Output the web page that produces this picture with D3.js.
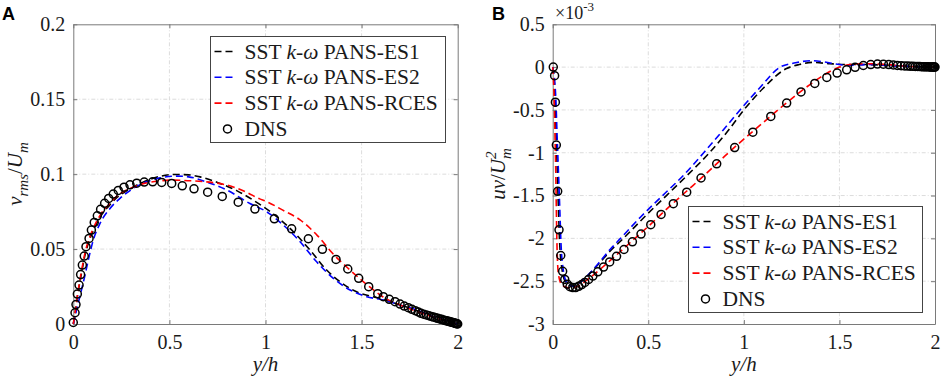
<!DOCTYPE html>
<html lang="en">
<head>
<meta charset="UTF-8">
<title>PANS vs DNS profiles</title>
<script src="https://d3js.org/d3.v7.min.js"></script>
<style>
    body { margin: 0; padding: 0; background: #fff; }
    svg text { font-family: 'Liberation Serif', 'Times New Roman', Times, 'DejaVu Serif', serif; fill: #1a1a1a; }
    svg text.panel-letter { font-family: 'Liberation Sans', Arial, sans-serif; font-weight: bold; fill: #000; }
</style>
</head>
<body>
<svg id="chart" width="941" height="379"></svg>
<script>
// ---- tick values ----
const xTicks = [0, 0.5, 1, 1.5, 2];
const yTicksA = [0, 0.05, 0.1, 0.15, 0.2];
const yTicksB = [0.5, 0, -0.5, -1, -1.5, -2, -2.5, -3];

// ---- legend ----
const modelNames = ["PANS-ES1", "PANS-ES2", "PANS-RCES"];
const modelColors = ["#000000", "#0000ff", "#ff0000"];

// ---- panel A: v_rms / U_m ----
const dnsA = [
    [0.0, 0.001], [0.009, 0.0075], [0.014, 0.013], [0.021, 0.020], [0.030, 0.026], [0.038, 0.033],
    [0.047, 0.0393], [0.057, 0.0453], [0.066, 0.0516], [0.082, 0.0571], [0.094, 0.0627], [0.109, 0.0678],
    [0.125, 0.0722], [0.142, 0.0765], [0.163, 0.0805], [0.184, 0.0838], [0.208, 0.0867], [0.234, 0.0891],
    [0.264, 0.0913], [0.295, 0.0929], [0.330, 0.094], [0.369, 0.0947], [0.413, 0.0949], [0.460, 0.0945],
    [0.512, 0.0938], [0.567, 0.0922], [0.628, 0.0902], [0.699, 0.088], [0.775, 0.0851], [0.858, 0.0813],
    [0.945, 0.0767], [1.046, 0.0702], [1.136, 0.0635], [1.223, 0.0569], [1.296, 0.0498], [1.367, 0.0431],
    [1.428, 0.0367], [1.485, 0.0305], [1.537, 0.0249], [1.584, 0.0202], [1.613, 0.0182], [1.644, 0.0165],
    [1.674, 0.0149], [1.700, 0.0133], [1.722, 0.012], [1.743, 0.0109], [1.762, 0.0098], [1.779, 0.0089],
    [1.795, 0.008], [1.809, 0.0071], [1.823, 0.0065], [1.837, 0.006], [1.850, 0.0055], [1.862, 0.005],
    [1.874, 0.0046], [1.885, 0.0042], [1.896, 0.0038], [1.906, 0.0034], [1.916, 0.0031], [1.925, 0.0027],
    [1.934, 0.0024], [1.942, 0.0021], [1.950, 0.0018], [1.957, 0.0016], [1.964, 0.0013], [1.971, 0.0011],
    [1.977, 0.0009], [1.982, 0.0007], [1.987, 0.0005], [1.992, 0.0003], [1.996, 0.0001], [2.0, 0.0]
];
const es1A = [
    [0, 0], [0.01, 0.0075], [0.02, 0.017], [0.03, 0.025], [0.04, 0.032], [0.05, 0.039], [0.06, 0.0455],
    [0.075, 0.0525], [0.09, 0.058], [0.11, 0.064], [0.14, 0.0715], [0.19, 0.0795], [0.23, 0.0848],
    [0.28, 0.089], [0.36, 0.0945], [0.45, 0.0985], [0.52, 0.0998], [0.6, 0.0995], [0.66, 0.0982],
    [0.75, 0.0945], [0.85, 0.089], [0.95, 0.0815], [1.04, 0.0735], [1.145, 0.0616], [1.232, 0.0493],
    [1.318, 0.036], [1.388, 0.0282], [1.474, 0.0215], [1.58, 0.0175], [1.7, 0.0128], [1.79, 0.0088],
    [1.9, 0.0045], [2.0, 0]
];
const es2A = [
    [0, 0], [0.02, 0.011], [0.038, 0.0204], [0.061, 0.0327], [0.078, 0.0427], [0.104, 0.056],
    [0.139, 0.0671], [0.191, 0.0771], [0.243, 0.0838], [0.312, 0.0905], [0.382, 0.0949], [0.451, 0.0975],
    [0.538, 0.0987], [0.6, 0.0982], [0.7, 0.0945], [0.8, 0.0893], [0.919, 0.0804], [1.006, 0.0749],
    [1.093, 0.066], [1.18, 0.0549], [1.266, 0.0415], [1.353, 0.0305], [1.44, 0.0227], [1.527, 0.0182],
    [1.613, 0.016], [1.70, 0.0127], [1.787, 0.0093], [1.873, 0.0049], [2.0, 0]
];
const rcesA = [
    [0, 0], [0.01, 0.008], [0.02, 0.018], [0.03, 0.026], [0.04, 0.0335], [0.05, 0.0405], [0.06, 0.047],
    [0.075, 0.054], [0.09, 0.0595], [0.11, 0.0655], [0.14, 0.0727], [0.19, 0.0805], [0.23, 0.0858],
    [0.28, 0.0895], [0.36, 0.0935], [0.45, 0.0955], [0.5, 0.096], [0.62, 0.0955], [0.8, 0.0927],
    [0.9, 0.088], [0.97, 0.0835], [1.0, 0.082], [1.09, 0.076], [1.18, 0.0695], [1.27, 0.059],
    [1.35, 0.047], [1.44, 0.036], [1.53, 0.026], [1.61, 0.0182], [1.7, 0.0127], [1.79, 0.0082],
    [1.9, 0.0035], [2.0, 0]
];

// ---- panel B: uv / U_m^2  (x 1e-3) ----
const dnsB = [
    [0.003, 0], [0.010, -0.10], [0.014, -0.41], [0.019, -0.91], [0.026, -1.45], [0.033, -1.90],
    [0.042, -2.20], [0.052, -2.385], [0.063, -2.48], [0.076, -2.535], [0.09, -2.565], [0.105, -2.575],
    [0.12, -2.575], [0.136, -2.56], [0.152, -2.54], [0.168, -2.515], [0.188, -2.48], [0.21, -2.44],
    [0.236, -2.39], [0.266, -2.335], [0.298, -2.275], [0.334, -2.21], [0.373, -2.13], [0.417, -2.04],
    [0.462, -1.95], [0.513, -1.84], [0.567, -1.72], [0.631, -1.595], [0.701, -1.46], [0.776, -1.295],
    [0.858, -1.13], [0.952, -0.94], [1.047, -0.76], [1.141, -0.576], [1.224, -0.42], [1.299, -0.29],
    [1.371, -0.19], [1.434, -0.121], [1.488, -0.07], [1.538, -0.031], [1.582, -0.002], [1.625, 0.019],
    [1.664, 0.03], [1.699, 0.035], [1.730, 0.034], [1.758, 0.03], [1.782, 0.025], [1.803, 0.02],
    [1.823, 0.016], [1.840, 0.014], [1.856, 0.012], [1.870, 0.01], [1.884, 0.009], [1.897, 0.008],
    [1.909, 0.007], [1.920, 0.006], [1.930, 0.005], [1.939, 0.004], [1.948, 0.004], [1.956, 0.003],
    [1.964, 0.003], [1.971, 0.002], [1.977, 0.002], [1.983, 0.001], [1.988, 0.001], [1.993, 0.0],
    [1.997, 0.0], [2.0, 0.0]
];
const es1B = [
    [0, 0], [0.012, -0.35], [0.018, -0.8], [0.024, -1.22], [0.03, -1.65], [0.036, -2.04], [0.05, -2.38],
    [0.065, -2.5], [0.09, -2.55], [0.11, -2.56], [0.14, -2.52], [0.18, -2.44], [0.24, -2.3],
    [0.3, -2.15], [0.37, -2.0], [0.48, -1.75], [0.595, -1.5], [0.71, -1.25], [0.82, -1.0],
    [0.915, -0.75], [1.0, -0.5], [1.1, -0.25], [1.22, -0.02], [1.29, 0.03], [1.36, 0.055],
    [1.45, 0.04], [1.55, 0.03], [1.65, 0.03], [1.75, 0.02], [1.9, 0.005], [2.0, 0]
];
const es2B = [
    [0, 0], [0.016, -0.35], [0.023, -0.8], [0.03, -1.22], [0.037, -1.65], [0.043, -2.04], [0.056, -2.38],
    [0.07, -2.5], [0.09, -2.55], [0.11, -2.56], [0.14, -2.52], [0.18, -2.44], [0.24, -2.29],
    [0.3, -2.13], [0.355, -2.0], [0.46, -1.75], [0.575, -1.5], [0.69, -1.25], [0.79, -1.0],
    [0.89, -0.74], [0.98, -0.5], [1.08, -0.25], [1.19, 0.0], [1.27, 0.05], [1.35, 0.075],
    [1.42, 0.06], [1.5, 0.03], [1.55, 0.02], [1.65, 0.03], [1.75, 0.02], [1.9, 0.005], [2.0, 0]
];
const rcesB = [
    [0, 0], [0.007, -0.33], [0.012, -0.8], [0.016, -1.22], [0.019, -1.65], [0.022, -2.04], [0.03, -2.42],
    [0.047, -2.54], [0.07, -2.57], [0.1, -2.58], [0.13, -2.56], [0.2, -2.45], [0.3, -2.26],
    [0.4, -2.06], [0.5, -1.86], [0.6, -1.65], [0.7, -1.45], [0.8, -1.25], [0.9, -1.04], [1.0, -0.84],
    [1.1, -0.65], [1.2, -0.46], [1.3, -0.28], [1.4, -0.12], [1.5, 0.0], [1.57, 0.035], [1.65, 0.04],
    [1.75, 0.03], [1.85, 0.01], [2.0, 0]
];

const SERIF = "'Liberation Serif', 'Times New Roman', Times, 'DejaVu Serif', serif";
const svg = d3.select("#chart");

function drawPanel(opt) {
    const x = d3.scaleLinear().domain([0, 2]).range([opt.left, opt.right]);
    const y = d3.scaleLinear().domain(opt.yDomain).range([opt.bottom, opt.top]);
    const g = svg.append("g");

    // grid
    g.append("g").selectAll("line").data(xTicks.slice(1, -1)).join("line")
        .attr("x1", d => x(d)).attr("x2", d => x(d))
        .attr("y1", opt.top).attr("y2", opt.bottom)
        .attr("stroke", "#dcdcdc").attr("stroke-dasharray", "4,2,1,2");
    g.append("g").selectAll("line").data(opt.yTicks.filter(d => d !== opt.yDomain[0] && d !== opt.yDomain[1])).join("line")
        .attr("x1", opt.left).attr("x2", opt.right)
        .attr("y1", d => y(d)).attr("y2", d => y(d))
        .attr("stroke", "#dcdcdc").attr("stroke-dasharray", "4,2,1,2");

    // axes (ticks inward on all sides, matlab box)
    const tickFmt = d => String(d);
    const bottomAx = g.append("g").attr("transform", `translate(0,${opt.bottom})`)
        .call(d3.axisBottom(x).tickValues(xTicks).tickFormat(tickFmt).tickSizeInner(-4).tickSizeOuter(0).tickPadding(11));
    const topAx = g.append("g").attr("transform", `translate(0,${opt.top})`)
        .call(d3.axisTop(x).tickValues(xTicks).tickFormat("").tickSizeInner(-4).tickSizeOuter(0));
    const leftAx = g.append("g").attr("transform", `translate(${opt.left},0)`)
        .call(d3.axisLeft(y).tickValues(opt.yTicks).tickFormat(tickFmt).tickSizeInner(-4).tickSizeOuter(0).tickPadding(8));
    const rightAx = g.append("g").attr("transform", `translate(${opt.right},0)`)
        .call(d3.axisRight(y).tickValues(opt.yTicks).tickFormat("").tickSizeInner(-4).tickSizeOuter(0));
    [bottomAx, topAx, leftAx, rightAx].forEach(a => {
        a.attr("font-family", SERIF).attr("font-size", 20);
        a.select(".domain").attr("stroke", "#7a7a7a");
        a.selectAll(".tick line").attr("stroke", "#7a7a7a");
        a.selectAll("text").attr("fill", "#1a1a1a");
    });

    // model curves
    const line = d3.line().x(d => x(d[0])).y(d => y(d[1])).curve(d3.curveMonotoneX);
    opt.series.forEach((s, i) => {
        g.append("path").datum(s)
            .attr("fill", "none")
            .attr("stroke", modelColors[i])
            .attr("stroke-width", 1.6)
            .attr("stroke-dasharray", "7,4")
            .attr("d", line);
    });

    // DNS markers
    g.append("g").selectAll("circle").data(opt.dns).join("circle")
        .attr("cx", d => x(d[0])).attr("cy", d => y(d[1]))
        .attr("r", 4).attr("fill", "none")
        .attr("stroke", "#000").attr("stroke-width", 1.5);

    // legend
    const lg = g.append("g").attr("transform", `translate(${opt.legend.x},${opt.legend.y})`)
        .attr("font-family", SERIF);
    lg.append("rect").attr("width", opt.legend.w).attr("height", opt.legend.h)
        .attr("fill", "#fff").attr("stroke", "#444").attr("stroke-width", 1);
    modelNames.forEach((name, i) => {
        const cy = 15 + i * 25.8;
        lg.append("line").attr("x1", 4).attr("x2", 25).attr("y1", cy).attr("y2", cy)
            .attr("stroke", modelColors[i]).attr("stroke-width", 1.6).attr("stroke-dasharray", "7,4");
        const t = lg.append("text").attr("x", 34).attr("y", cy + 7).attr("font-size", 21.5);
        t.append("tspan").text("SST ");
        t.append("tspan").attr("font-style", "italic").text("k");
        t.append("tspan").text("-");
        t.append("tspan").attr("font-style", "italic").text("ω");
        t.append("tspan").text(" " + name);
    });
    const dy = 15 + 3 * 25.8;
    lg.append("circle").attr("cx", 17).attr("cy", dy).attr("r", 4)
        .attr("fill", "none").attr("stroke", "#000").attr("stroke-width", 1.5);
    lg.append("text").attr("x", 34).attr("y", dy + 7).attr("font-size", 21.5).text("DNS");

    // x label
    svg.append("text").attr("x", (opt.left + opt.right) / 2).attr("y", 371)
        .attr("font-family", SERIF)
        .attr("text-anchor", "middle").attr("font-size", 21).attr("font-style", "italic").text("y/h");

    // panel letter
    svg.append("text").attr("class", "panel-letter").attr("x", opt.letterX).attr("y", 20)
        .attr("font-size", 18).text(opt.letter);

    return { x, y };
}

// panel A
drawPanel({
    left: 73.3, right: 457.7, top: 24.3, bottom: 324,
    yDomain: [0, 0.2], yTicks: yTicksA,
    series: [es1A, es2A, rcesA], dns: dnsA,
    legend: { x: 210.5, y: 36.5, w: 235, h: 106 },
    letter: "A", letterX: 2
});
const la = svg.append("text").attr("transform", "translate(22,174) rotate(-90)")
    .attr("font-family", SERIF).attr("text-anchor", "middle").attr("font-size", 21);
la.append("tspan").attr("font-style", "italic").text("v");
la.append("tspan").attr("font-style", "italic").attr("font-size", 15).attr("dy", 6).text("rms");
la.append("tspan").attr("dy", -6).text("/");
la.append("tspan").attr("font-style", "italic").text("U");
la.append("tspan").attr("font-style", "italic").attr("font-size", 15).attr("dy", 6).text("m");

// panel B
drawPanel({
    left: 552.7, right: 935, top: 24.3, bottom: 324,
    yDomain: [-3, 0.5], yTicks: yTicksB,
    series: [es1B, es2B, rcesB], dns: dnsB,
    legend: { x: 688.5, y: 206.5, w: 234, h: 106 },
    letter: "B", letterX: 492
});
const lb = svg.append("text").attr("transform", "translate(505,174) rotate(-90)")
    .attr("font-family", SERIF).attr("text-anchor", "middle").attr("font-size", 21);
lb.append("tspan").attr("font-style", "italic").text("uv");
lb.append("tspan").text("/");
lb.append("tspan").attr("font-style", "italic").text("U");
lb.append("tspan").attr("font-style", "italic").attr("font-size", 15).attr("dy", -9).text("2");
lb.append("tspan").attr("font-style", "italic").attr("font-size", 15).attr("dx", -7.5).attr("dy", 15).text("m");

// exponent label
const ex = svg.append("text").attr("x", 555).attr("y", 19).attr("font-family", SERIF).attr("font-size", 18);
ex.append("tspan").text("×10");
ex.append("tspan").attr("font-size", 13).attr("dy", -8).text("-3");
</script>
</body>
</html>
